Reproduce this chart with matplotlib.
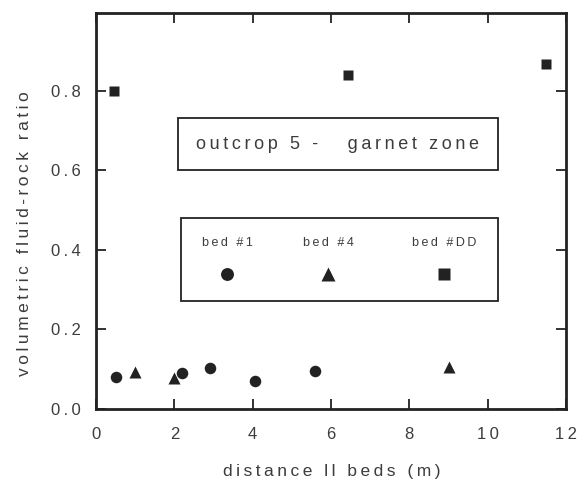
import matplotlib
matplotlib.use("Agg")
import matplotlib.pyplot as plt
from matplotlib.patches import Rectangle

plt.rcParams['font.family'] = ['Liberation Sans', 'DejaVu Sans']

# bed #1 (circles)
bed1_x = [0.5, 2.2, 2.9, 4.05, 5.6]
bed1_y = [0.080, 0.090, 0.103, 0.070, 0.096]
# bed #4 (triangles)
bed4_x = [1.0, 2.0, 9.0]
bed4_y = [0.093, 0.078, 0.106]
# bed #DD (squares)
bedDD_x = [0.45, 6.43, 11.48]
bedDD_y = [0.800, 0.838, 0.868]

xticks = [0, 2, 4, 6, 8, 10, 12]
yticks = [0.0, 0.2, 0.4, 0.6, 0.8]
legend_labels = ["bed #1", "bed #4", "bed #DD"]
title_text = "outcrop 5 -   garnet zone"
xlabel_text = "distance ll beds (m)"
ylabel_text = "volumetric fluid-rock ratio"

ink = "#222222"
txt = "#3c3c3c"


def spaced(s):
    """Widen the letter spacing with thin spaces, typewriter-lettering style."""
    return "\u2009".join(s)


fig = plt.figure(figsize=(5.82, 4.82), dpi=100)
ax = fig.add_axes([96 / 582, 1 - 409 / 482, 470 / 582, 396 / 482])

ax.plot(bed1_x, bed1_y, 'o', color=ink, ms=8.3, mec='none', clip_on=False)
ax.plot(bed4_x, bed4_y, '^', color=ink, ms=9, mec='none', clip_on=False)
ax.plot(bedDD_x, bedDD_y, 's', color=ink, ms=7.5, mec='none', clip_on=False)

ax.set_xlim(0, 12)
ax.set_ylim(0, 0.995)

ax.set_xticks(xticks)
ax.set_xticklabels([spaced(str(t)) for t in xticks])
ax.set_yticks(yticks)
ax.set_yticklabels([spaced(f"{t:.1f}") for t in yticks])
ax.tick_params(direction='in', length=7.5, width=1.3, color=ink,
               top=True, right=True, labelsize=12, labelcolor=txt)
ax.tick_params(axis='x', pad=13)
ax.tick_params(axis='y', pad=11)
for s in ax.spines.values():
    s.set_linewidth(2.0)
    s.set_color(ink)

# axis titles
ax.text(0.502, -0.169, spaced(xlabel_text), transform=ax.transAxes,
        ha='center', va='baseline', fontsize=12.5, color=txt)
ax.text(-0.1426, 0.442, spaced(ylabel_text), transform=ax.transAxes,
        ha='center', va='baseline', rotation=90, rotation_mode='anchor',
        fontsize=12.5, color=txt)

# title box
ax.add_patch(Rectangle((2.09, 0.60), 8.17, 0.13, fill=False, ec=ink, lw=1.3))
ax.text(6.17, 0.664, spaced(title_text), ha='center', va='center',
        fontsize=13, color=txt)

# legend box
ax.add_patch(Rectangle((2.17, 0.272), 8.09, 0.208, fill=False, ec=ink, lw=1.3))
leg_x = [3.35, 5.93, 8.88]
leg_markers = ['o', '^', 's']
leg_ms = [9.3, 10.5, 9]
for lx, lab, mk, ms in zip(leg_x, legend_labels, leg_markers, leg_ms):
    ax.text(lx, 0.418, spaced(lab), ha='center', va='center', fontsize=9, color=txt)
    ax.plot([lx], [0.339], mk, color=ink, ms=ms, mec='none')

fig.savefig("out.png", dpi=100)
